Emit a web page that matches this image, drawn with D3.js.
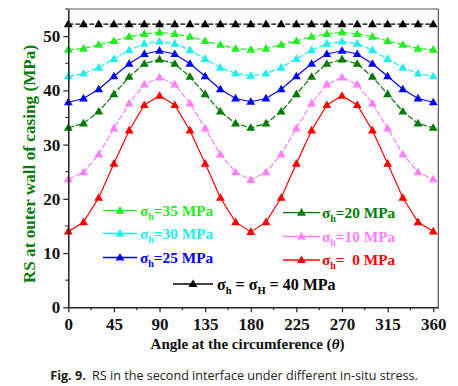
<!DOCTYPE html>
<html>
<head>
<meta charset="utf-8">
<script src="https://cdn.jsdelivr.net/npm/d3@7/dist/d3.min.js"></script>
<style>
  html, body { margin: 0; padding: 0; background: #fff; }
  svg { display: block; }
</style>
</head>
<body>
<svg id="chart" width="458" height="386"></svg>
<script>
// ---------- data ----------
const angles = [0,15,30,45,60,75,90,105,120,135,150,165,180,195,210,225,240,255,270,285,300,315,330,345,360];
const xTicks = [0,45,90,135,180,225,270,315,360];
const yTicks = [0,10,20,30,40,50];

const s40 = [52.2,52.2,52.2,52.2,52.2,52.2,52.2,52.2,52.2,52.2,52.2,52.2,52.2,52.2,52.2,52.2,52.2,52.2,52.2,52.2,52.2,52.2,52.2,52.2,52.2];
const s35 = [47.5,47.7,48.4,49.1,49.9,50.4,50.7,50.4,49.9,49.1,48.4,47.7,47.5,47.7,48.4,49.1,49.9,50.4,50.7,50.4,49.9,49.1,48.4,47.7,47.5];
const s30 = [42.6,43.1,44.2,45.8,47.4,48.6,49.0,48.6,47.4,45.8,44.2,43.1,42.7,43.1,44.2,45.8,47.4,48.6,49.0,48.6,47.4,45.8,44.2,43.1,42.6];
const s25 = [37.8,38.5,40.2,42.6,44.9,46.7,47.3,46.7,44.9,42.6,40.2,38.5,37.9,38.5,40.2,42.6,44.9,46.7,47.3,46.7,44.9,42.6,40.2,38.5,37.8];
const s20 = [33.1,33.9,36.1,39.3,42.5,44.9,45.7,44.9,42.5,39.3,36.1,33.9,33.1,33.9,36.1,39.3,42.5,44.9,45.7,44.9,42.5,39.3,36.1,33.9,33.1];
const s10 = [23.6,24.9,28.2,33.0,37.6,41.1,42.4,41.1,37.6,33.0,28.2,24.9,23.5,24.9,28.2,33.0,37.6,41.1,42.4,41.1,37.6,33.0,28.2,24.9,23.6];
const s0  = [14.0,15.7,20.2,26.5,32.6,37.3,39.0,37.3,32.6,26.5,20.2,15.7,13.9,15.7,20.2,26.5,32.6,37.3,39.0,37.3,32.6,26.5,20.2,15.7,14.0];

const seriesNames = ["40","35","30","25","20","10","0"];
const seriesColors = ["#000000","#22ee22","#22eeee","#0000ff","#007a00","#ff80ff","#ff0000"];
const seriesDash = ["5,2","6,2","6,2","none","6,2","6,2","none"];
const seriesValues = [s40, s35, s30, s25, s20, s10, s0];

const legendLeft = [{i:1, label:"=35 MPa"},{i:2, label:"=30 MPa"},{i:3, label:"=25 MPa"}];
const legendRight = [{i:4, label:"=20 MPa"},{i:5, label:"=10 MPa"},{i:6, label:"=\u00a0 0 MPa"}];

// ---------- layout ----------
const svg = d3.select("#chart");
const L = 68.3, R = 438.3, T = 9, B = 307.3;
const x = d3.scaleLinear().domain([0, 365]).range([L, R]);
const y = d3.scaleLinear().domain([0, 55]).range([B, T]);
const serif = "'Liberation Serif','Times New Roman',serif";

// frame (top/right)
svg.append("line").attr("x1", L).attr("x2", R).attr("y1", T).attr("y2", T).attr("stroke", "#555").attr("stroke-width", 1.2);
svg.append("line").attr("x1", R).attr("x2", R).attr("y1", T).attr("y2", B).attr("stroke", "#555").attr("stroke-width", 1.2);

// series
const line = d3.line().x((d, k) => x(angles[k])).y(d => y(d));
const sym = d3.symbol().type(d3.symbolTriangle).size(34);
seriesValues.forEach((vals, si) => {
  const g = svg.append("g");
  g.append("path").attr("d", line(vals)).attr("fill", "none")
    .attr("stroke", seriesColors[si]).attr("stroke-width", 1.2)
    .attr("stroke-dasharray", seriesDash[si]);
  g.selectAll("path.m").data(vals).enter().append("path").attr("class", "m")
    .attr("d", sym)
    .attr("transform", (d, k) => `translate(${x(angles[k])},${y(d) + 0.5})`)
    .attr("fill", seriesColors[si]);
});

// axes
const xAxis = svg.append("g").attr("transform", `translate(0,${B})`)
  .call(d3.axisBottom(x).tickValues(xTicks).tickSize(5).tickSizeOuter(0).tickPadding(6));
const yAxis = svg.append("g").attr("transform", `translate(${L},0)`)
  .call(d3.axisLeft(y).tickValues(yTicks).tickSize(5).tickSizeOuter(0).tickPadding(3));
[xAxis, yAxis].forEach(a => {
  a.select(".domain").attr("stroke", "#222").attr("stroke-width", 1.5);
  a.selectAll(".tick line").attr("stroke", "#222").attr("stroke-width", 1.2);
  a.selectAll("text").attr("font-family", serif).attr("font-weight", "bold")
    .attr("font-size", 17).attr("fill", "#111");
});
// minor ticks
const xMinor = xTicks.slice(0, -1).map(v => v + 22.5);
svg.append("g").selectAll("line").data(xMinor).enter().append("line")
  .attr("x1", d => x(d)).attr("x2", d => x(d)).attr("y1", B).attr("y2", B + 3)
  .attr("stroke", "#222").attr("stroke-width", 1.1);
const yMinor = yTicks.map(v => v + 5);
svg.append("g").selectAll("line").data(yMinor).enter().append("line")
  .attr("x1", L - 3).attr("x2", L).attr("y1", d => y(d)).attr("y2", d => y(d))
  .attr("stroke", "#222").attr("stroke-width", 1.1);

// axis titles
svg.append("text").attr("x", 247.5).attr("y", 349).attr("text-anchor", "middle")
  .attr("font-family", serif).attr("font-weight", "bold").attr("font-size", 15).attr("fill", "#111")
  .call(t => {
    t.append("tspan").text("Angle at the circumference (");
    t.append("tspan").attr("font-style", "italic").text("\u03b8");
    t.append("tspan").text(")");
  });
svg.append("text").attr("transform", "translate(35,164) rotate(-90)").attr("text-anchor", "middle")
  .attr("font-family", serif).attr("font-weight", "bold").attr("font-size", 17.2).attr("fill", "#0b7a0b")
  .text("RS at outer wall of casing (MPa)");

// legends
function legendItem(lx1, lx2, ty, si, label, tx, fs) {
  const c = seriesColors[si];
  svg.append("line").attr("x1", lx1).attr("x2", lx2).attr("y1", ty).attr("y2", ty)
    .attr("stroke", c).attr("stroke-width", 1.3);
  svg.append("path").attr("d", sym).attr("transform", `translate(${(lx1 + lx2) / 2},${ty + 0.5})`).attr("fill", c);
  const t = svg.append("text").attr("x", tx).attr("y", ty + 5)
    .attr("font-family", serif).attr("font-weight", "bold").attr("font-size", fs).attr("fill", c);
  t.append("tspan").text("\u03c3");
  t.append("tspan").attr("font-size", fs * 0.65).attr("dy", 4).text("h");
  t.append("tspan").attr("dy", -4).text(label);
}
const leftRowsY = [210.7, 233.5, 257.5];
legendLeft.forEach((d, k) => legendItem(103, 137, leftRowsY[k], d.i, d.label, 140, 15.3));
const rightRowsY = [212.7, 236.5, 260];
legendRight.forEach((d, k) => legendItem(283, 320, rightRowsY[k], d.i, d.label, 322, 15.3));

// black legend
{
  const ty = 284, c = seriesColors[0];
  svg.append("line").attr("x1", 173).attr("x2", 213).attr("y1", ty).attr("y2", ty).attr("stroke", c).attr("stroke-width", 1.3);
  svg.append("path").attr("d", sym).attr("transform", `translate(193,${ty + 0.5})`).attr("fill", c);
  const t = svg.append("text").attr("x", 217).attr("y", ty + 5.5)
    .attr("font-family", serif).attr("font-weight", "bold").attr("font-size", 16).attr("fill", c);
  t.append("tspan").text("\u03c3");
  t.append("tspan").attr("font-size", 10.5).attr("dy", 4).text("h");
  t.append("tspan").attr("dy", -4).text(" = \u03c3");
  t.append("tspan").attr("font-size", 10.5).attr("dy", 4).text("H");
  t.append("tspan").attr("dy", -4).text(" = 40 MPa");
}

// caption
const cap = svg.append("text").attr("x", 234).attr("y", 380).attr("text-anchor", "middle")
  .attr("font-family", "'Open Sans','Noto Sans',sans-serif").attr("font-size", 12.6).attr("fill", "#222");
cap.append("tspan").attr("font-weight", "bold").text("Fig. 9.");
cap.append("tspan").text("\u2002RS in the second interface under different in-situ stress.");
</script>
</body>
</html>
